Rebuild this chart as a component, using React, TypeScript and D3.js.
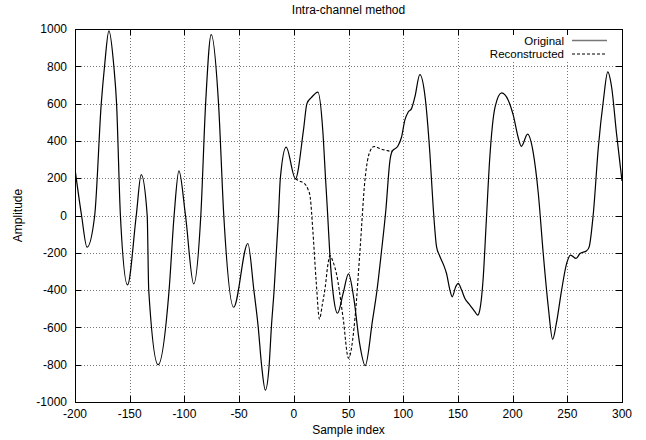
import React from 'react';
import * as d3 from 'd3';

const xTicks = [-200, -150, -100, -50, 0, 50, 100, 150, 200, 250, 300];
const yTicks = [-1000, -800, -600, -400, -200, 0, 200, 400, 600, 800, 1000];

const originalX = [
  -200, -194, -189, -182, -176, -173, -169, -164.5, -162, -158.5, -152, -144, -139.5, -134,
  -132.6, -124, -114, -109.4, -105, -99, -91.5, -85, -80.6, -75.5, -68.8, -64, -55, -42,
  -36.5, -32.5, -29.5, -26, -22.5, -20.5, -18, -16, -14, -12.3, -7, 1.5, 8.8, 12, 16, 22,
  26.5, 29, 31, 33, 36, 40, 45, 50, 55, 60, 65.3, 72, 76, 80, 84, 88, 90, 95, 98.5, 101.5,
  104.6, 107.6, 110.7, 115.2, 120, 124.4, 127.4, 130.5, 133, 137, 139.6, 142.7, 144.8, 148,
  150.3, 153.4, 156.4, 161, 165.5, 168, 170, 173, 176, 179, 184, 190, 196, 200.6, 205, 208,
  213.7, 219, 223.5, 228, 232.6, 236.6, 240, 244.8, 249.4, 253, 258, 261.6, 267.7, 270,
  273.8, 278.4, 283, 287, 290.5, 295, 300,
];
const originalY = [
  250, 0, -170, 0, 600, 800, 990, 800, 600, 0, -372, 0, 219, 0,
  -400, -800, -400, 0, 239, 0, -367, 0, 600, 970, 600, 0, -492, -150,
  -400, -600, -800, -936, -800, -600, -400, -200, 0, 200, 367, 197, 456, 600, 632, 662,
  456, 200, 0, -215, -420, -524, -420, -313, -450, -680, -805, -560, -403, -200, 20, 300, 345, 371, 421, 511,
  555, 573, 636, 755, 636, 332, 46, -168, -212, -266, -311, -400, -436, -382,
  -364, -400, -445, -480, -516, -534, -507, -346, -25, 296, 582, 657, 618, 538, 421, 371,
  436, 332, 118, -204, -489, -664, -579, -400, -257, -212, -230, -204, -189, -168,
  11, 368, 618, 770, 689, 439, 185,
];

const reconX = [
  1.5, 5, 10, 13, 15, 17.4, 20.4, 23.5, 26, 28.7, 31, 33, 36, 39, 45, 50, 56, 60.7, 65, 70,
  73.5, 79, 84, 88, 90,
];
const reconY = [
  197, 185, 170, 140, 98, -80, -349, -555, -480, -385, -270, -215, -250, -313, -546, -765,
  -546, -170, 188, 349, 370, 358, 350, 345, 345,
];

const FONT = '"Liberation Sans", Arial, Helvetica, sans-serif';

export default function App() {
  const W = 646;
  const H = 440;
  const L = 75, R = 622, T = 29, B = 402;
  const x = d3.scaleLinear().domain([-200, 300]).range([L, R]);
  const y = d3.scaleLinear().domain([-1000, 1000]).range([B, T]);
  const px = (v: number) => Math.round(x(v)) + 0.5;
  const py = (v: number) => Math.round(y(v)) + 0.5;

  const line = d3
    .line<[number, number]>()
    .x((d) => x(d[0]))
    .y((d) => y(d[1]))
    .curve(d3.curveMonotoneX);

  const orig: [number, number][] = originalX.map((v, i) => [v, originalY[i]]);
  const rec: [number, number][] = reconX.map((v, i) => [v, reconY[i]]);

  const tick = 6;

  return (
    <svg
      width={W}
      height={H}
      style={{ position: 'absolute', left: 0, top: 0, background: '#fff' }}
      fontFamily={FONT}
    >
      <rect x={0} y={0} width={W} height={H} fill="#fff" />
      <defs>
        <clipPath id="plot">
          <rect x={L} y={T} width={R - L} height={B - T} />
        </clipPath>
      </defs>
      {/* grid */}
      <g stroke="#777" strokeWidth={1} strokeDasharray="1,2" fill="none">
        {xTicks.slice(1, -1).map((t) => (
          <line key={'gx' + t} x1={px(t)} x2={px(t)} y1={T} y2={B} />
        ))}
        {yTicks.slice(1, -1).map((t) => (
          <line key={'gy' + t} x1={L} x2={R} y1={py(t)} y2={py(t)} />
        ))}
      </g>
      {/* legend background */}
      <rect x={478} y={34} width={134} height={28} fill="#fff" />
      {/* ticks */}
      <g stroke="#000" strokeWidth={1}>
        {xTicks.map((t) => (
          <g key={'tx' + t}>
            <line x1={px(t)} x2={px(t)} y1={B} y2={B - tick} />
            <line x1={px(t)} x2={px(t)} y1={T} y2={T + tick} />
          </g>
        ))}
        {yTicks.map((t) => (
          <g key={'ty' + t}>
            <line x1={L} x2={L + tick} y1={py(t)} y2={py(t)} />
            <line x1={R} x2={R - tick} y1={py(t)} y2={py(t)} />
          </g>
        ))}
      </g>
      {/* curves */}
      <g clipPath="url(#plot)" fill="none" stroke="#000">
        <path d={line(rec) || ''} strokeWidth={1.1} strokeDasharray="3,2" />
        <path d={line(orig) || ''} strokeWidth={1.2} />
      </g>
      {/* frame */}
      <rect
        x={Math.round(L) + 0.5}
        y={Math.round(T) + 0.5}
        width={Math.round(R) - Math.round(L)}
        height={Math.round(B) - Math.round(T)}
        fill="none"
        stroke="#000"
        strokeWidth={1}
      />
      {/* tick labels */}
      <g fontSize={12} fill="#000">
        {xTicks.map((t) => (
          <text key={'lx' + t} x={x(t)} y={B + 16} textAnchor="middle">
            {t}
          </text>
        ))}
        {yTicks.map((t) => (
          <text key={'ly' + t} x={L - 8} y={y(t)} dy="0.35em" textAnchor="end">
            {t}
          </text>
        ))}
      </g>
      {/* titles */}
      <text x={(L + R) / 2} y={14} textAnchor="middle" fontSize={12}>
        Intra-channel method
      </text>
      <text x={(L + R) / 2} y={434} textAnchor="middle" fontSize={12}>
        Sample index
      </text>
      <text
        transform={`translate(22, ${(T + B) / 2}) rotate(-90)`}
        textAnchor="middle"
        fontSize={12}
      >
        Amplitude
      </text>
      {/* legend */}
      <g fontSize={11.5}>
        <text x={564} y={44.5} textAnchor="end">Original</text>
        <line x1={572} x2={607} y1={40.5} y2={40.5} stroke="#777" strokeWidth={1.5} />
        <text x={564} y={58} textAnchor="end">Reconstructed</text>
        <line x1={572} x2={607} y1={54} y2={54} stroke="#000" strokeWidth={1} strokeDasharray="3,2" />
      </g>
    </svg>
  );
}
